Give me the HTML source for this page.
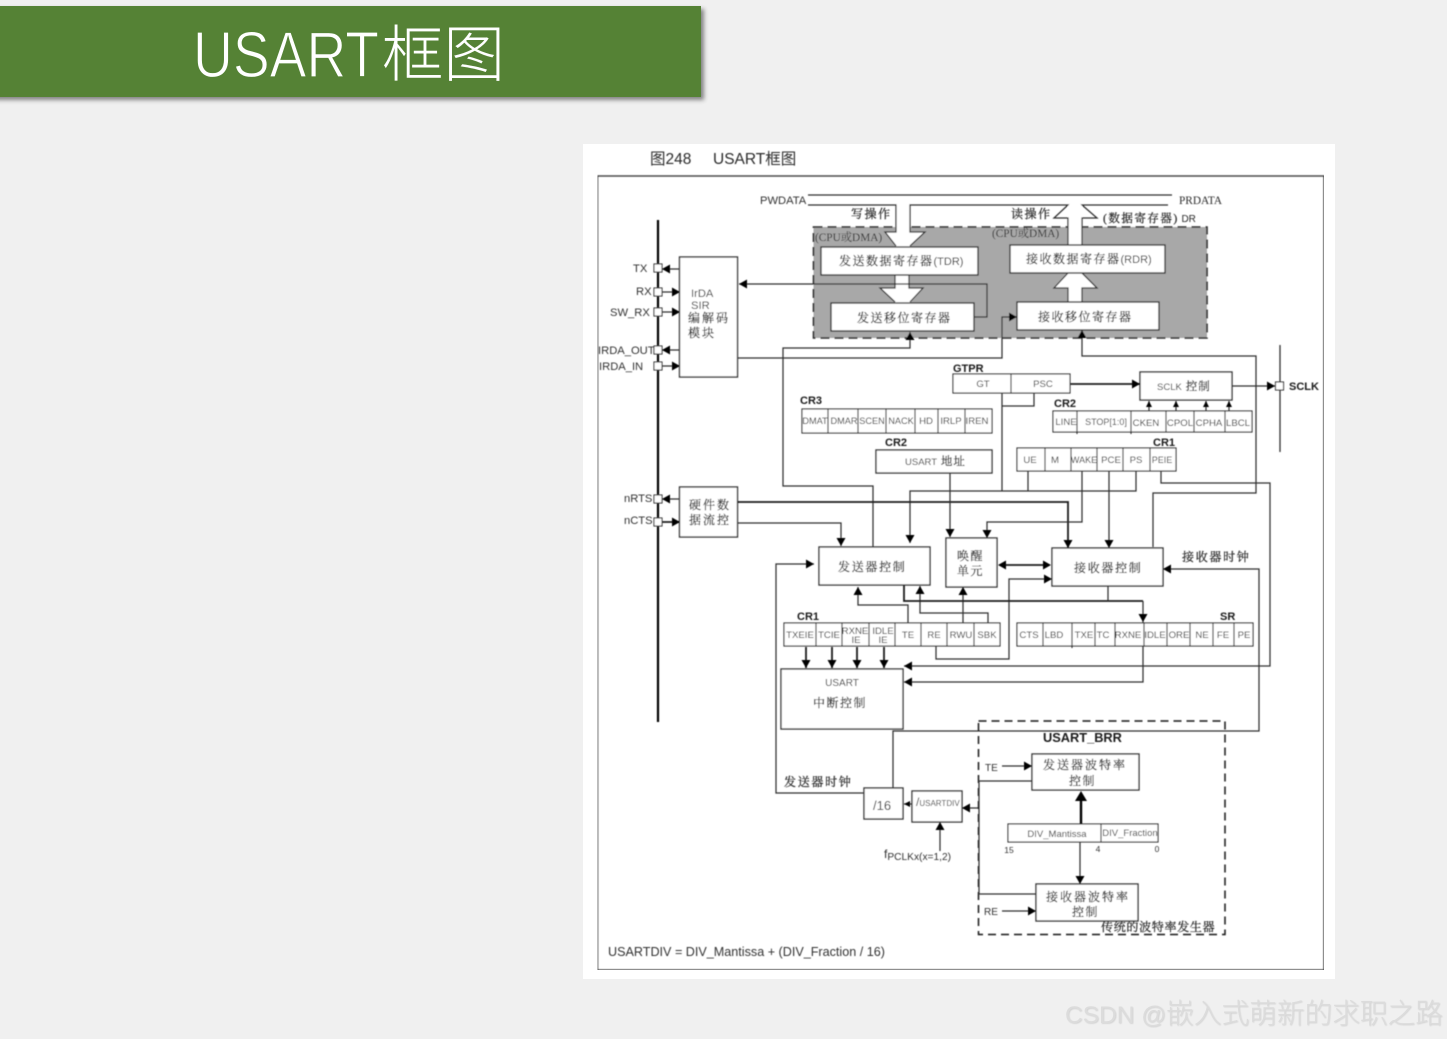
<!DOCTYPE html>
<html><head><meta charset="utf-8"><style>
html,body{margin:0;padding:0;background:#f0f0f0}
svg{display:block}
.l{fill:none;stroke:#2e2e2e;stroke-width:1.25}
.k{fill:none;stroke:#1a1a1a;stroke-width:1.8}
.b{fill:#fff;stroke:#2e2e2e;stroke-width:1.35}
.a{marker-end:url(#a)}
.s{marker-end:url(#s)}
text{font-family:"Liberation Sans","Noto Sans CJK SC",sans-serif;fill:#333;font-size:10px}
.m{text-anchor:middle}
.r{font-size:9.6px;text-anchor:middle}
.h{font-weight:bold;font-size:11px;fill:#1a1a1a}
.p{font-size:11.2px}
.c{font-family:"Liberation Serif","Noto Serif CJK SC",serif;font-size:12px;letter-spacing:1.5px;fill:#2a2a2a;stroke:#2a2a2a;stroke-width:.25px}
.f{font-family:"Liberation Serif","Noto Serif CJK SC",serif;font-size:11.3px;fill:#2a2a2a}
</style></head><body>
<svg width="1447" height="1039" viewBox="0 0 1447 1039" xmlns="http://www.w3.org/2000/svg">
<defs>
<marker id="a" viewBox="0 0 8 9" refX="8" refY="4.5" markerWidth="8" markerHeight="9" markerUnits="userSpaceOnUse" orient="auto"><path d="M0 0L8 4.5L0 9z" fill="#000"/></marker>
<marker id="s" viewBox="0 0 6 6" refX="6" refY="3" markerWidth="6" markerHeight="6" markerUnits="userSpaceOnUse" orient="auto"><path d="M0 0L6 3L0 6z" fill="#000"/></marker>
<filter id="bl" x="0" y="0" width="100%" height="100%"><feGaussianBlur stdDeviation="0.45"/></filter>
<filter id="sh" x="-2%" y="-10%" width="104%" height="125%"><feDropShadow dx="3" dy="3" stdDeviation="2.2" flood-color="#000" flood-opacity=".45"/></filter>
<filter id="wm" x="-2%" y="-20%" width="104%" height="140%"><feDropShadow dx=".8" dy=".8" stdDeviation=".4" flood-color="#aaa" flood-opacity=".45"/></filter>
</defs>

<rect x="-10" y="6" width="711" height="91" fill="#548235" filter="url(#sh)"/>
<text x="193" y="77" font-size="65" textLength="186" lengthAdjust="spacingAndGlyphs" style="font-size:65px;fill:#fff;stroke:#548235;stroke-width:1.2px">USART</text>
<text x="382" y="76" style="font-size:61.500px;font-weight:300;fill:#fff;font-family:'Noto Sans CJK SC',sans-serif">框图</text>

<rect x="583" y="144" width="752" height="835" fill="#fff"/>

<g filter="url(#bl)">
<text x="650" y="164" style="font-size:15.500px;fill:#2a2a2a">图248</text>
<text x="713" y="164" style="font-size:15.500px;fill:#2a2a2a">USART框图</text>
<rect x="597.5" y="176" width="726.5" height="794" fill="none" stroke="#3c3c3c" stroke-width="1.4"/>

<!-- gray region -->
<rect x="813.5" y="227" width="393.5" height="111" fill="#a8a8a8" stroke="#2a2a2a" stroke-width="1.6" stroke-dasharray="9 5"/>
<polygon points="896,205 896,232 885,232 896,247 910,247 925,232 910,232 910,205" fill="#fff"/>
<polygon points="1068,205 1068,246 1082,246 1082,205" fill="#fff"/>
<polygon points="895,275 895,288 880,288 895,303 910,303 923,288 909,288 909,275" fill="#fff"/>
<polygon points="1068,302 1068,288 1054,288 1068,273 1082,273 1097,288 1082,288 1082,302" fill="#fff"/>

<!-- bus lines -->
<path class="l" d="M808 195H1172"/>
<path class="l" d="M808 205H896V232H885L896 246M910 246L925 232H910V205H1068L1054 218H1068V246M1082 246V218H1097L1082 205H1168"/>
<path class="l" d="M895 275V288H880L895 302M910 302L923 288H909V275"/>
<path class="l" d="M1068 302V288H1054L1068 273M1082 273L1097 288H1082V302"/>

<!-- Main boxes -->
<rect class="b" x="821" y="247" width="157" height="28"/>
<rect class="b" x="1010" y="245" width="155" height="28"/>
<rect class="b" x="831" y="303" width="143" height="28"/>
<rect class="b" x="1017" y="302" width="142" height="28"/>
<rect class="b" x="679.5" y="257" width="58" height="120"/>
<rect class="b" x="679.5" y="487" width="58" height="50"/>
<rect class="b" x="819" y="547" width="111" height="38"/>
<rect class="b" x="946" y="538" width="51" height="49"/>
<rect class="b" x="1052" y="548" width="111" height="38"/>
<rect class="b" x="781" y="669" width="122" height="60"/>
<rect class="b" x="864" y="788" width="39" height="31"/>
<rect class="b" x="912" y="791" width="50" height="31"/>
<rect class="b" x="1140" y="372" width="92" height="28"/>
<rect class="b" x="876" y="450" width="116" height="23"/>
<rect class="b" x="1032" y="754" width="107" height="36"/>
<rect class="b" x="1036" y="884" width="102" height="37"/>

<!-- Left bus and pins -->
<path d="M658 220V722" stroke="#000" stroke-width="2.2" fill="none"/>
<path d="M1280 345V452" stroke="#2e2e2e" stroke-width="1.3" fill="none"/>
<g fill="#fff" stroke="#2e2e2e" stroke-width="1.1">
<rect x="654" y="264" width="8" height="8"/><rect x="654" y="288" width="8" height="8"/><rect x="654" y="308" width="8" height="8"/>
<rect x="654" y="346" width="8" height="8"/><rect x="654" y="362" width="8" height="8"/><rect x="654" y="495" width="8" height="8"/>
<rect x="654" y="518" width="8" height="8"/><rect x="1275.5" y="382" width="8" height="8"/>
</g>
<path class="l a" d="M679 269H662"/>
<path class="l a" d="M662 292H680"/>
<path class="l a" d="M662 312H680"/>
<path class="l a" d="M679 350H662"/>
<path class="l a" d="M662 366H680"/>
<path class="l a" d="M679 499H662"/>
<path class="k a" d="M662 522H680"/>

<!-- connectors -->
<path class="l a" d="M974 317H987V284H739"/>
<path class="l a" d="M873 547V486H783V348H910V332"/>
<path class="l a" d="M737 358H1002V317H1017"/>
<path class="l a" d="M1153 547V493H1256V356H1082V330"/>
<path class="k a" d="M1070 384H1140"/>
<path class="l a" d="M1232 386H1275"/>
<path class="l s" d="M1149 411V401"/><path class="l s" d="M1176 411V401"/><path class="l s" d="M1206 411V401"/><path class="l s" d="M1229 411V401"/>
<path class="l" d="M1002 393V491M1034 393V406H1002M1028 471V491"/>
<path class="l a" d="M1136 471V491H910V543"/>
<path class="k a" d="M737 502H1068V548"/>
<path class="l a" d="M1082 471V522H987V538"/>
<path class="l a" d="M1109 471V548"/>
<path class="l a" d="M1161 471V483H1270V666H904"/>
<path class="l a" d="M950 473V537"/>
<path class="l a" d="M737 523H841V546"/>
<path class="k" d="M1005 565H1045"/>
<path d="M1006 560.5L998 565L1006 569.500z M1043 560.500L1051 565L1043 569.500z" fill="#000"/>
<path class="l a" d="M936 646V659H1009V579H1052"/>
<path class="l a" d="M893 788V731H1259V569H1163"/>
<path class="l a" d="M864 793H776V564H814"/>
<path class="l s" d="M912 804H904"/>
<path class="l a" d="M979 808H962"/>
<path class="l a" d="M940 851V822"/>
<path class="l a" d="M908 623V605H858V587"/>
<path class="l a" d="M988 623V613H920V586"/>
<path class="l a" d="M963 623V587"/>
<path class="k" d="M904 585V601H1143"/>
<path class="l" d="M1108 586V601"/>
<path class="l a" d="M1143 601V622"/>
<path class="l a" d="M1143 622V682H904"/>
<path class="k a" d="M806 647V668"/><path class="k a" d="M832 647V668"/><path class="k a" d="M857 647V668"/><path class="k a" d="M884 647V668"/>

<!-- Registers -->
<g fill="#fff" stroke="#2e2e2e" stroke-width="1.15">
<rect x="953" y="374" width="117" height="19"/><path d="M1011 374V393"/>
<rect x="1053" y="411" width="199" height="21"/><path d="M1077 411V434M1131 411V434M1166 411V432M1194 411V432M1225 411V432"/>
<rect x="1017" y="448" width="159" height="23"/><path d="M1045 448V471M1071 448V471M1097 448V471M1123 448V471M1150 448V471"/>
<rect x="802" y="409" width="190" height="24"/><path d="M828 409V433M858 409V433M886 409V433M915 409V433M938 409V433M965 409V433"/>
<rect x="784" y="623" width="216" height="23"/><path d="M816 623V646M842 623V646M869 623V646M895 623V646M921 623V646M947 623V646M974 623V646"/>
<rect x="1017" y="623" width="236" height="23"/><path d="M1043 623V646M1072 623V648M1095 623V646M1115 623V646M1144 623V646M1167 623V646M1190 623V646M1213 623V646M1234 623V646"/>
<rect x="1008" y="824" width="150" height="18"/><path d="M1101 824V842"/>
</g>

<!-- BRR -->
<rect x="978.500" y="721" width="246.500" height="213.500" fill="none" stroke="#1a1a1a" stroke-width="1.5" stroke-dasharray="8 5"/>
<path class="l a" d="M1002 766H1032"/>
<path class="l a" d="M1002 911H1036"/>
<path d="M1081 824V800" stroke="#000" stroke-width="2.400" fill="none"/>
<path d="M1075 801L1081 791L1087 801z" fill="#000"/>
<path class="l a" d="M1080 842V884"/>
<path class="l" d="M1032 781H979V894H1036"/>

<!-- Labels -->
<text x="760" y="204" class="p">PWDATA</text>
<text x="1179" y="204" class="f">PRDATA</text>
<text x="851" y="218" class="c">写操作</text>
<text x="1011" y="218" class="c">读操作</text>
<text x="1103" y="222" class="c" style="font-size:11.500px">(数据寄存器)<tspan style="font-family:'Liberation Sans';font-size:10px;letter-spacing:0;stroke:none"> DR</tspan></text>
<text x="815" y="241" class="f">(CPU或DMA)</text>
<text x="992" y="237" class="f">(CPU或DMA)</text>
<text x="839" y="265" class="c">发送数据寄存器<tspan style="font-family:'Liberation Sans';font-size:11px;letter-spacing:0;stroke:none">(TDR)</tspan></text>
<text x="1026" y="263" class="c">接收数据寄存器<tspan style="font-family:'Liberation Sans';font-size:11px;letter-spacing:0;stroke:none">(RDR)</tspan></text>
<text x="857" y="322" class="c">发送移位寄存器</text>
<text x="1038" y="321" class="c">接收移位寄存器</text>

<text x="633" y="272" class="p">TX</text><text x="636" y="295" class="p">RX</text><text x="610" y="316" class="p">SW_RX</text>
<text x="598" y="354" class="p">IRDA_OUT</text><text x="599" y="370" class="p">IRDA_IN</text>
<text x="624" y="502" class="p">nRTS</text><text x="624" y="524" class="p">nCTS</text>
<text x="691" y="297" class="p">IrDA</text><text x="691" y="309" class="p">SIR</text>
<text x="688" y="322" class="c" style="letter-spacing:2px">编解码</text><text x="688" y="337" class="c" style="letter-spacing:2px">模块</text>
<text x="689" y="509" class="c" style="letter-spacing:2px">硬件数</text><text x="689" y="524" class="c" style="letter-spacing:2px">据流控</text>

<text x="953" y="372" class="h">GTPR</text><text x="800" y="404" class="h">CR3</text><text x="885" y="446" class="h">CR2</text>
<text x="1054" y="407" class="h">CR2</text><text x="1153" y="446" class="h">CR1</text><text x="797" y="620" class="h">CR1</text>
<text x="1220" y="620" class="h">SR</text><text x="1043" y="742" class="h" style="font-size:12.800px">USART_BRR</text>
<text x="1289" y="390" class="h">SCLK</text>

<text x="983" y="387" class="r">GT</text><text x="1043" y="387" class="r">PSC</text>
<text x="1157" y="390" style="font-size:9.500px">SCLK<tspan class="c" style="font-size:11.500px;letter-spacing:1px"> 控制</tspan></text>
<text x="905" y="465" style="font-size:9.500px">USART<tspan class="c" style="font-size:11.500px;letter-spacing:1px"> 地址</tspan></text>

<text class="r" x="815" y="424" style="font-size:9.200px">DMAT</text><text class="r" x="844" y="424" style="font-size:9.200px">DMAR</text><text class="r" x="872" y="424" style="font-size:9.200px">SCEN</text><text class="r" x="901" y="424" style="font-size:9.200px">NACK</text><text class="r" x="926" y="424">HD</text><text class="r" x="951" y="424">IRLP</text><text class="r" x="977" y="424">IREN</text>
<text class="r" x="1066" y="425">LINE</text><text class="r" x="1106" y="425" style="font-size:9px">STOP[1:0]</text><text class="r" x="1146" y="426">CKEN</text><text class="r" x="1180" y="426">CPOL</text><text class="r" x="1209" y="426">CPHA</text><text class="r" x="1238" y="426">LBCL</text>
<text class="r" x="1030" y="463">UE</text><text class="r" x="1055" y="463">M</text><text class="r" x="1084" y="463" style="font-size:9px">WAKE</text><text class="r" x="1111" y="463">PCE</text><text class="r" x="1136" y="463">PS</text><text class="r" x="1162" y="463" style="font-size:9px">PEIE</text>

<text class="r" x="800" y="638">TXEIE</text><text class="r" x="829" y="638">TCIE</text><text class="r" x="855" y="634">RXNE</text><text class="r" x="856" y="643">IE</text><text class="r" x="883" y="634">IDLE</text><text class="r" x="883" y="643">IE</text><text class="r" x="908" y="638">TE</text><text class="r" x="934" y="638">RE</text><text class="r" x="961" y="638">RWU</text><text class="r" x="987" y="638">SBK</text>
<text class="r" x="1029" y="638">CTS</text><text class="r" x="1054" y="638">LBD</text><text class="r" x="1084" y="638">TXE</text><text class="r" x="1103" y="638">TC</text><text class="r" x="1128" y="638">RXNE</text><text class="r" x="1155" y="638">IDLE</text><text class="r" x="1179" y="638">ORE</text><text class="r" x="1202" y="638">NE</text><text class="r" x="1223" y="638">FE</text><text class="r" x="1244" y="638">PE</text>

<text x="838" y="571" class="c" style="letter-spacing:1.700px">发送器控制</text>
<text x="957" y="560" class="c" style="letter-spacing:1.500px">唤醒</text><text x="957" y="575" class="c" style="letter-spacing:1.500px">单元</text>
<text x="1074" y="572" class="c" style="letter-spacing:1.700px">接收器控制</text>
<text x="1182" y="561" class="c" style="letter-spacing:1.700px">接收器时钟</text>
<text x="842" y="686" class="m" style="font-size:10px">USART</text>
<text x="813" y="707" class="c">中断控制</text>
<text x="784" y="786" class="c" style="letter-spacing:1.700px">发送器时钟</text>
<text x="873" y="810" style="font-size:13px">/16</text>
<text x="916" y="806" style="font-size:8px"><tspan style="font-size:12px">/</tspan>USARTDIV</text>
<text x="884" y="858" style="font-size:12px">f<tspan dy="2" style="font-size:10.200px">PCLKx(x=1,2)</tspan></text>
<text x="985" y="771" style="font-size:10px">TE</text><text x="984" y="915" style="font-size:10px">RE</text>
<text x="1043" y="769" class="c" style="letter-spacing:2px">发送器波特率</text><text x="1069" y="785" class="c">控制</text>
<text x="1046" y="901" class="c" style="letter-spacing:2px">接收器波特率</text><text x="1072" y="916" class="c">控制</text>
<text x="1057" y="837" class="r" style="font-size:9.500px">DIV_Mantissa</text><text x="1130" y="836" class="r" style="font-size:9.500px">DIV_Fraction</text>
<text x="1009" y="853" class="r" style="font-size:8.500px">15</text><text x="1098" y="852" class="r" style="font-size:8.500px">4</text><text x="1157" y="852" class="r" style="font-size:8.500px">0</text>
<text x="1101" y="931" class="c" style="letter-spacing:.7px">传统的波特率发生器</text>
<text x="608" y="956" style="font-size:12.600px">USARTDIV = DIV_Mantissa + (DIV_Fraction / 16)</text>
</g>

<text x="1065" y="1023" filter="url(#wm)" style="font-size:24.500px;fill:#dcdcdc">CSDN @<tspan style="font-size:27.700px;font-weight:300">嵌入式萌新的求职之路</tspan></text>
</svg>
</body></html>
